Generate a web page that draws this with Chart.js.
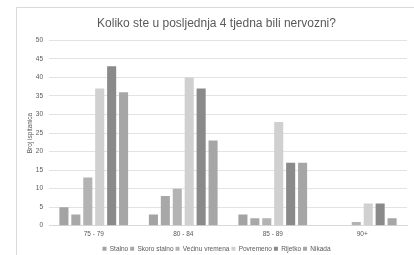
<!DOCTYPE html>
<html>
<head>
<meta charset="utf-8">
<script src="https://cdn.jsdelivr.net/npm/chart.js@4/dist/chart.umd.min.js"></script>
<style>
  html, body { margin: 0; padding: 0; background: #fff; }
  #wrap { width: 414px; height: 255px; position: relative; }
</style>
</head>
<body>
<div id="wrap"><canvas id="c"></canvas></div>
<script>
  const ageGroups = ['75 - 79', '80 - 84', '85 - 89', '90+'];
  const seriesNames = ['Stalno', 'Skoro stalno', 'Većinu vremena', 'Povremeno', 'Rijetko', 'Nikada'];
  const stalno = [5, 3, 3, 0];
  const skoroStalno = [3, 8, 2, 0];
  const vecinuVremena = [13, 10, 2, 1];
  const povremeno = [37, 40, 28, 6];
  const rijetko = [43, 37, 17, 6];
  const nikada = [36, 23, 17, 2];
  const seriesColors = ['#a3a3a3', '#a8a8a8', '#b3b3b3', '#d0d0d0', '#8a8a8a', '#a6a6a6'];

  const allSeries = [stalno, skoroStalno, vecinuVremena, povremeno, rijetko, nikada];

  // light frame on the left and top like the original screenshot
  const frame = {
    id: 'frame',
    beforeDraw(chart) {
      const ctx = chart.ctx;
      ctx.save();
      ctx.fillStyle = '#fff';
      ctx.fillRect(0, 0, chart.width, chart.height);
      ctx.strokeStyle = '#d9d9d9';
      ctx.lineWidth = 1;
      ctx.beginPath();
      ctx.moveTo(16.5, chart.height);
      ctx.lineTo(16.5, 7.5);
      ctx.lineTo(chart.width, 7.5);
      ctx.stroke();
      ctx.restore();
    }
  };

  const font = "'Liberation Sans', Arial, sans-serif";

  new Chart(document.getElementById('c'), {
    type: 'bar',
    data: {
      labels: ageGroups,
      datasets: allSeries.map((d, i) => ({
        label: seriesNames[i],
        data: d,
        backgroundColor: seriesColors[i],
        borderWidth: 0,
        categoryPercentage: 0.8,
        barPercentage: 0.76,
      })),
    },
    options: {
      responsive: true,
      maintainAspectRatio: false,
      animation: false,
      layout: { padding: { left: 26, right: 7, top: 14, bottom: -7 } },
      plugins: {
        title: {
          display: true,
          text: 'Koliko ste u posljednja 4 tjedna bili nervozni?',
          color: '#595959',
          font: { family: font, size: 12, weight: 'normal' },
          padding: { top: 2, bottom: 10 },
        },
        legend: {
          position: 'bottom',
          labels: {
            boxWidth: 4,
            boxHeight: 4,
            padding: 2,
            color: '#595959',
            font: { family: font, size: 6.5 },
          },
        },
        tooltip: { enabled: false },
      },
      scales: {
        x: {
          grid: { display: false, drawTicks: false },
          border: { color: '#d9d9d9' },
          ticks: { color: '#595959', font: { family: font, size: 6.5 }, padding: 5 },
        },
        y: {
          min: 0,
          max: 50,
          ticks: { stepSize: 5, color: '#595959', font: { family: font, size: 6.5 }, padding: 6 },
          grid: { color: '#e3e3e3', drawTicks: false },
          border: { display: false },
          title: {
            display: true,
            text: 'Broj ispitanica',
            color: '#595959',
            font: { family: font, size: 6.5 },
            padding: { top: 0, bottom: 2 },
          },
          afterFit(scale) { scale.width = 23; },
        },
      },
    },
    plugins: [frame],
  });
</script>
</body>
</html>
